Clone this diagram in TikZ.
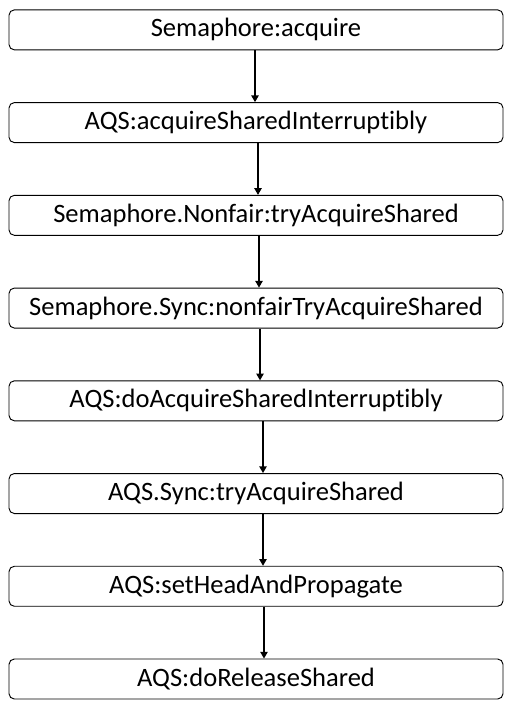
\documentclass[tikz,border=0pt]{standalone}
\usepackage{fontspec}
\setmainfont{Carlito}[Ligatures=NoCommon]
\usepackage{tikz}
\usetikzlibrary{positioning, arrows.meta}

\begin{document}
\begin{tikzpicture}[
    callbox/.style={draw, rounded corners=4pt, line width=0.7pt, minimum width=370.5pt, minimum height=30pt, inner sep=0pt, font=\fontsize{19.9}{21}\selectfont},
    flow/.style={-{Triangle[width=5.5pt, length=5pt]}, line width=0.9pt}
]
\useasboundingbox (0,0) rectangle (384pt,-526.5pt);
\node[callbox] (s1) at (192pt,-22.4pt) {Semaphore:acquire};
\node[callbox, below=38.85pt of s1] (s2) {AQS:acquireSharedInterruptibly};
\node[callbox, below=38.85pt of s2] (s3) {Semaphore.Nonfair:tryAcquireShared};
\node[callbox, below=38.85pt of s3] (s4) {Semaphore.Sync:nonfairTryAcquireShared};
\node[callbox, below=38.85pt of s4] (s5) {AQS:doAcquireSharedInterruptibly};
\node[callbox, below=38.85pt of s5] (s6) {AQS.Sync:tryAcquireShared};
\node[callbox, below=38.85pt of s6] (s7) {AQS:setHeadAndPropagate};
\node[callbox, below=38.85pt of s7] (s8) {AQS:doReleaseShared};

\draw[flow] ([xshift=-0.75pt]s1.south) -- ([xshift=-0.75pt]s2.north);
\draw[flow] ([xshift=1.5pt]s2.south) -- ([xshift=1.5pt]s3.north);
\draw[flow] ([xshift=2.25pt]s3.south) -- ([xshift=2.25pt]s4.north);
\draw[flow] ([xshift=3pt]s4.south) -- ([xshift=3pt]s5.north);
\draw[flow] ([xshift=5.25pt]s5.south) -- ([xshift=5.25pt]s6.north);
\draw[flow] ([xshift=5.25pt]s6.south) -- ([xshift=5.25pt]s7.north);
\draw[flow] ([xshift=6pt]s7.south) -- ([xshift=6pt]s8.north);
\end{tikzpicture}
\end{document}
